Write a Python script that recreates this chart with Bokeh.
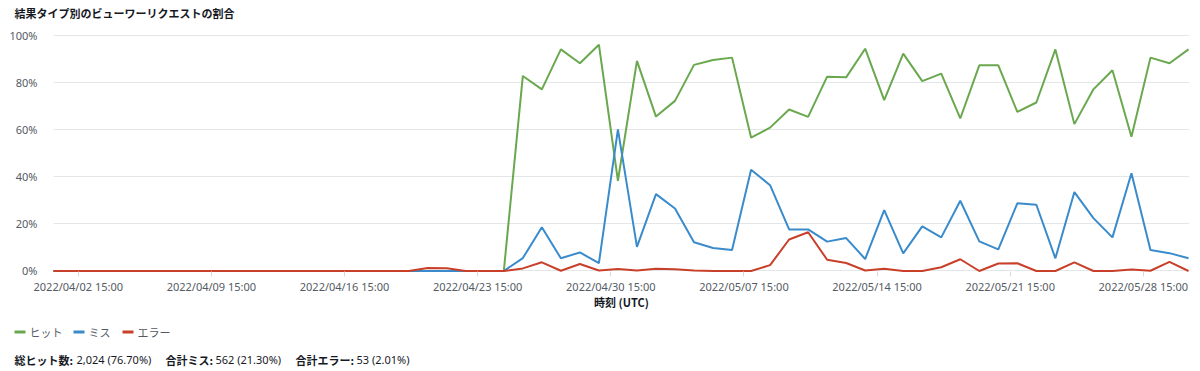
from datetime import datetime
import pandas as pd
from bokeh.plotting import figure
from bokeh.layouts import column
from bokeh.models import (Range1d, FixedTicker, DatetimeTickFormatter, PrintfTickFormatter,
                          ColumnDataSource)
from bokeh.core.properties import value
from bokeh.embed import file_html
from bokeh.resources import INLINE

# ---------------- data ----------------
TITLE = "結果タイプ別のビューワーリクエストの割合"
X_TITLE = "時刻 (UTC)"
series_names = ["ヒット", "ミス", "エラー"]
series_colors = ["#6aa84f", "#3a8bcb", "#c9402a"]

dates = pd.date_range("2022-04-01", "2022-05-31", freq="D")

hit = [0, 0, 0, 0, 0, 0, 0, 0, 0, 0,
       0, 0, 0, 0, 0, 0, 0, 0, 0, 0,
       0, 0, 0, 0, 0,
       83.0, 77.3, 94.3, 88.4, 96.3, 38.4, 89.4, 65.7, 72.4,
       87.7, 89.8, 90.8, 56.8, 61.0, 68.7, 65.6, 82.7, 82.4,
       94.6, 72.7, 92.5, 80.8, 84.0, 64.9, 87.5, 87.5, 67.7,
       71.7, 94.3, 62.5, 77.3, 85.4, 57.1, 90.8, 88.4, 94.3]

miss = [0, 0, 0, 0, 0, 0, 0, 0, 0, 0,
        0, 0, 0, 0, 0, 0, 0, 0, 0, 0,
        0, 0, 0, 0, 0,
        5.5, 18.6, 5.4, 7.9, 3.4, 60.3, 10.3, 32.7, 26.6,
        12.2, 9.8, 8.9, 43.1, 36.5, 17.7, 17.7, 12.5, 14.0,
        5.1, 25.9, 7.5, 19.0, 14.3, 29.9, 12.6, 9.2, 28.8,
        28.2, 5.4, 33.6, 22.5, 14.3, 41.6, 8.9, 7.6, 5.4]

error = [0, 0, 0, 0, 0, 0, 0, 0, 0, 0,
         0, 0, 0, 0, 0, 0, 0, 0, 0, 0,
         1.3, 1.2, 0, 0, 0,
         1.1, 3.7, 0.1, 3.0, 0.2, 0.8, 0.2, 1.0, 0.7,
         0.2, 0, 0, 0, 2.5, 13.4, 16.5, 4.8, 3.4,
         0.2, 1.0, 0, 0, 1.6, 5.0, 0, 3.2, 3.3,
         0, 0, 3.7, 0, 0, 0.6, 0.1, 3.9, 0]

x_tick_dates = ["2022-04-02 15:00", "2022-04-09 15:00", "2022-04-16 15:00",
                "2022-04-23 15:00", "2022-04-30 15:00", "2022-05-07 15:00",
                "2022-05-14 15:00", "2022-05-21 15:00", "2022-05-28 15:00"]
y_ticks = [0, 20, 40, 60, 80, 100]

footer_labels = ["総ヒット数:", "合計ミス:", "合計エラー:"]
footer_values = ["2,024 (76.70%)", "562 (21.30%)", "53 (2.01%)"]

# ---------------- layout / styling ----------------
W = 1200
H_HDR, H_MAIN, H_FT = 26, 292, 53
F_LEFT, F_RIGHT, F_TOP, F_BOTTOM = 53, 1189, 34, 273      # page pixels of the plot frame
CJK_NAME = "Noto Sans CJK JP"
LAT_NAME = "Noto Sans"
CJK = value(CJK_NAME)
LAT = value(LAT_NAME)
DARK = "#16191f"
GREY = "#545b64"
FS = "11px"

X0 = datetime(2022, 4, 1, 7, 45)
X1 = datetime(2022, 5, 31, 1, 15)
Y0, Y1 = -1.064, 100.638


def ms(t):
    return (pd.Timestamp(t) - pd.Timestamp("1970-01-01")).total_seconds() * 1000.0


def strip(height, top_px):
    """A text-only strip whose data units are page pixels."""
    f = figure(width=W, height=height, x_range=Range1d(0, W),
               y_range=Range1d(top_px + height, top_px),
               output_backend="svg", toolbar_location=None, min_border=0,
               outline_line_color=None, x_axis_type=None, y_axis_type=None,
               frame_align=False)
    return f


# header with title
hdr = strip(H_HDR, 0)
hdr.text(x=[14], y=[12.5], text=[TITLE], text_font=CJK, text_font_size=FS,
         text_font_style="bold", text_color=DARK, text_baseline="middle", text_align="left")

# main chart
source = ColumnDataSource(dict(date=dates, hit=hit, miss=miss, error=error))

p = figure(width=W, height=H_MAIN, x_axis_type="datetime",
           x_range=Range1d(X0, X1), y_range=Range1d(Y0, Y1),
           output_backend="svg", toolbar_location=None,
           min_border_left=F_LEFT, min_border_right=W - F_RIGHT,
           min_border_top=F_TOP - H_HDR, min_border_bottom=H_HDR + H_MAIN - F_BOTTOM,
           outline_line_color=None, frame_align=False)

for key, color in zip(["hit", "miss", "error"], series_colors):
    p.line(x="date", y=key, source=source, line_color=color, line_width=2)

p.xgrid.visible = False
p.ygrid.grid_line_color = "#e4e7ea"
p.ygrid.grid_line_width = 1

p.xaxis.ticker = FixedTicker(ticks=[ms(s) for s in x_tick_dates])
fmt = "%Y/%m/%d %H:%M"
p.xaxis.formatter = DatetimeTickFormatter(milliseconds=fmt, seconds=fmt, minsec=fmt, minutes=fmt,
                                          hourmin=fmt, hours=fmt, days=fmt, months=fmt, years=fmt)
p.xaxis.axis_line_color = None
p.xaxis.major_tick_line_color = "#d5dbdb"
p.xaxis.major_tick_out = 3
p.xaxis.major_tick_in = 2
p.xaxis.minor_tick_line_color = None
p.xaxis.major_label_text_font = LAT_NAME
p.xaxis.major_label_text_font_size = FS
p.xaxis.major_label_text_color = GREY
p.xaxis.major_label_standoff = 2
p.xaxis.axis_label = X_TITLE
p.xaxis.axis_label_text_font = CJK_NAME
p.xaxis.axis_label_text_font_size = FS
p.xaxis.axis_label_text_font_style = "bold"
p.xaxis.axis_label_text_color = DARK
p.xaxis.axis_label_standoff = -3

p.yaxis.ticker = FixedTicker(ticks=y_ticks)
p.yaxis.formatter = PrintfTickFormatter(format="%d%%")
p.yaxis.axis_line_color = None
p.yaxis.major_tick_line_color = None
p.yaxis.minor_tick_line_color = None
p.yaxis.major_label_text_font = LAT_NAME
p.yaxis.major_label_text_font_size = FS
p.yaxis.major_label_text_color = GREY
p.yaxis.major_label_standoff = 10

# footer: legend + totals
ft = strip(H_FT, H_HDR + H_MAIN)

leg_x0 = [14, 73, 122]
leg_y = 331.5
for name, color, x0 in zip(series_names, series_colors, leg_x0):
    ft.segment(x0=[x0], y0=[leg_y], x1=[x0 + 11], y1=[leg_y], line_color=color, line_width=3)
    ft.text(x=[x0 + 15], y=[leg_y], text=[name], text_font=CJK, text_font_size=FS,
            text_color=GREY, text_baseline="middle", text_align="left")

lab_x = [14, 165, 295]
val_x = [76, 215, 356]
foot_y = 359
for lab, val, lx, vx in zip(footer_labels, footer_values, lab_x, val_x):
    ft.text(x=[lx], y=[foot_y], text=[lab], text_font=CJK, text_font_size=FS,
            text_font_style="bold", text_color=DARK, text_baseline="middle", text_align="left")
    ft.text(x=[vx], y=[foot_y], text=[val], text_font=LAT, text_font_size=FS,
            text_color=DARK, text_baseline="middle", text_align="left")

layout = column(hdr, p, ft, spacing=0)
open("out.html", "w").write(file_html(layout, INLINE))
